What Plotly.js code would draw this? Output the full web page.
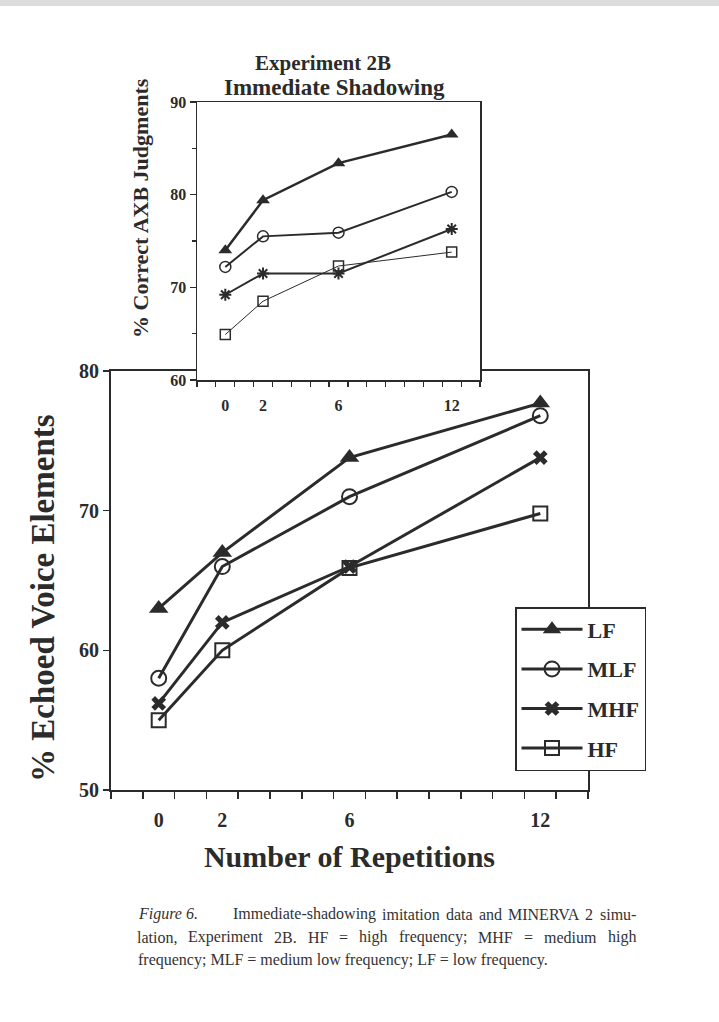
<!DOCTYPE html>
<html>
<head>
<meta charset="utf-8">
<script src="https://cdn.plot.ly/plotly-3.0.1.min.js"></script>
<style>
  html, body { margin: 0; padding: 0; background: #ffffff; }
  #fig { width: 719px; height: 1022px; }
</style>
</head>
<body>
<div id="fig"></div>
<script>
// Repetition counts on the x axis and their tick labels
const repetitions = [0, 2, 6, 12];
const repetitionLabels = ['0', '2', '6', '12'];
const seriesNames = ['LF', 'MLF', 'MHF', 'HF'];

// MINERVA 2 simulation: % echoed voice elements
const echoLF  = [63, 67, 73.8, 77.7];
const echoMLF = [58, 66, 71, 76.8];
const echoMHF = [56.2, 62, 66, 73.8];
const echoHF  = [55, 60, 65.9, 69.8];

// Experiment 2B, immediate shadowing: % correct AXB judgments
const axbLF  = [74, 79.4, 83.4, 86.5];
const axbMLF = [72.2, 75.5, 75.9, 80.3];
const axbMHF = [69.2, 71.5, 71.5, 76.3];
const axbHF  = [64.9, 68.5, 72.3, 73.8];

// Figure caption, line by line
const captionLabel = 'Figure 6.';
const captionLines = [
  'Immediate-shadowing imitation data and MINERVA 2 simu-',
  'lation, Experiment 2B. HF = high frequency; MHF = medium high',
  'frequency; MLF = medium low frequency; LF = low frequency.'
];

const ink = '#2b2b2b';
const captionInk = '#333333';
const serif = 'Liberation Serif, Times New Roman, serif';
const W = 719, H = 1022;
const px = v => v / W;          // horizontal pixel -> paper
const py = v => 1 - v / H;      // vertical pixel -> paper

const mainStyles = [
  { symbol: 'triangle-up', size: 17, lw: 0 },
  { symbol: 'circle-open', size: 15, lw: 2 },
  { symbol: 'x', size: 13, lw: 0 },
  { symbol: 'square-open', size: 14, lw: 2 }
];
const insetStyles = [
  { symbol: 'triangle-up', size: 12, lw: 0, line: 2.5 },
  { symbol: 'circle-open', size: 11, lw: 1.5, line: 2 },
  { symbol: 'asterisk-open', size: 10, lw: 2, line: 2 },
  { symbol: 'square-open', size: 10, lw: 1.5, line: 1 }
];

const echoSeries = [echoLF, echoMLF, echoMHF, echoHF];
const axbSeries = [axbLF, axbMLF, axbMHF, axbHF];

const traces = [];
echoSeries.forEach((vals, i) => {
  const s = mainStyles[i];
  traces.push({
    x: repetitions, y: vals, name: seriesNames[i],
    xaxis: 'x', yaxis: 'y', mode: 'lines+markers',
    legendgroup: seriesNames[i],
    line: { color: ink, width: 3 },
    marker: { symbol: s.symbol, size: s.size, color: ink,
              line: { color: ink, width: s.lw } }
  });
});
axbSeries.forEach((vals, i) => {
  const s = insetStyles[i];
  traces.push({
    x: repetitions, y: vals, name: seriesNames[i],
    xaxis: 'x2', yaxis: 'y2', mode: 'lines+markers', showlegend: false,
    line: { color: ink, width: s.line },
    marker: { symbol: s.symbol, size: s.size, color: ink,
              line: { color: ink, width: s.lw } }
  });
});

const boldFont = (size) => ({ family: serif, size: size, color: ink, weight: 'bold' });
const capFont = { family: serif, size: 16, color: captionInk };

// Justified caption: each word placed so that the line fills [left, right]
const measureCtx = document.createElement('canvas').getContext('2d');
function textWidth(str, size, italic) {
  measureCtx.font = (italic ? 'italic ' : '') + size + 'px "Liberation Serif"';
  return measureCtx.measureText(str).width;
}
function justifiedWords(line, left, right, yPix) {
  const words = line.split(' ');
  const widths = words.map(w => textWidth(w, capFont.size, false));
  const total = widths.reduce((a, b) => a + b, 0);
  const gap = words.length > 1 ? (right - left - total) / (words.length - 1) : 0;
  let x = left;
  return words.map((w, k) => {
    const ann = {
      text: w, xref: 'paper', yref: 'paper', x: px(x), y: py(yPix),
      xanchor: 'left', yanchor: 'middle', showarrow: false, font: capFont,
      borderpad: 0, borderwidth: 0
    };
    x += widths[k] + gap;
    return ann;
  });
}

const captionAnnotations = [
  { text: '<i>' + captionLabel + '</i>', xref: 'paper', yref: 'paper',
    x: px(137), y: py(914), xanchor: 'left', yanchor: 'middle',
    showarrow: false, font: capFont, borderpad: 0 }
].concat(
  justifiedWords(captionLines[0], 233, 636, 914),
  justifiedWords(captionLines[1], 137, 636, 937),
  [{ text: captionLines[2], xref: 'paper', yref: 'paper', x: px(137), y: py(960),
     xanchor: 'left', yanchor: 'middle', showarrow: false, font: capFont, borderpad: 0 }]
);

const layout = {
  width: W, height: H, autosize: false,
  margin: { l: 0, r: 0, t: 0, b: 0 },
  paper_bgcolor: '#ffffff', plot_bgcolor: '#ffffff',
  showlegend: true,
  legend: {
    x: px(515), y: py(607), xanchor: 'left', yanchor: 'top',
    bgcolor: '#ffffff', bordercolor: ink, borderwidth: 1.5,
    font: boldFont(22), itemwidth: 61, tracegroupgap: 8,
    traceorder: 'grouped'
  },
  xaxis: {
    domain: [px(111), px(588)], range: [-1.5, 13.5], anchor: 'y',
    tickmode: 'array', tickvals: repetitions, ticktext: repetitionLabels,
    ticks: '', ticklabelstandoff: 11, tickfont: boldFont(20),
    minor: { tickmode: 'linear', tick0: 0.5, dtick: 1, ticks: 'outside',
             ticklen: 7, tickwidth: 1.5, tickcolor: ink, showgrid: false },
    showline: true, linecolor: ink, linewidth: 2, mirror: true,
    showgrid: false, zeroline: false, fixedrange: true,
    title: { text: 'Number of Repetitions', font: boldFont(30), standoff: 16 }
  },
  yaxis: {
    domain: [py(790), py(371)], range: [50, 80], anchor: 'x',
    tickmode: 'array', tickvals: [50, 60, 70, 80],
    ticks: 'outside', ticklen: 6, tickwidth: 1.5, tickcolor: ink,
    tickfont: boldFont(20), ticklabelstandoff: 0,
    showline: true, linecolor: ink, linewidth: 2, mirror: true,
    showgrid: false, zeroline: false, fixedrange: true
  },
  xaxis2: {
    domain: [px(197), px(480)], range: [-1.5, 13.5], anchor: 'y2',
    tickmode: 'array', tickvals: repetitions, ticktext: repetitionLabels,
    ticks: '', ticklabelstandoff: 10, tickfont: boldFont(16),
    minor: { tickmode: 'linear', tick0: 0.5, dtick: 1, ticks: 'outside',
             ticklen: 5, tickwidth: 1.2, tickcolor: ink, showgrid: false },
    showline: true, linecolor: ink, linewidth: 1.5, mirror: true,
    showgrid: false, zeroline: false, fixedrange: true
  },
  yaxis2: {
    domain: [py(380), py(102)], range: [60, 90], anchor: 'x2',
    tickmode: 'array', tickvals: [60, 70, 80, 90],
    ticks: 'outside', ticklen: 6, tickwidth: 1.2, tickcolor: ink,
    tickfont: boldFont(16), ticklabelstandoff: 0,
    minor: { tickmode: 'linear', tick0: 65, dtick: 10, ticks: 'outside',
             ticklen: 4, tickwidth: 1.2, tickcolor: ink, showgrid: false },
    showline: true, linecolor: ink, linewidth: 1.5, mirror: true,
    showgrid: false, zeroline: false, fixedrange: true
  },
  shapes: [
    { type: 'rect', xref: 'paper', yref: 'paper', x0: 0, x1: 1,
      y0: py(6), y1: 1, fillcolor: '#dcdcdc', line: { width: 0 }, layer: 'below' }
  ],
  annotations: [
    { text: 'Experiment 2B', xref: 'paper', yref: 'paper', x: px(323), y: py(63),
      xanchor: 'center', yanchor: 'middle', showarrow: false, font: boldFont(21) },
    { text: 'Immediate Shadowing', xref: 'paper', yref: 'paper', x: px(334), y: py(87),
      xanchor: 'center', yanchor: 'middle', showarrow: false, font: boldFont(23) },
    { text: '% Correct AXB Judgments', xref: 'paper', yref: 'paper', x: px(140), y: py(208),
      xanchor: 'center', yanchor: 'middle', textangle: -90, showarrow: false,
      font: boldFont(22) },
    { text: '% Echoed Voice Elements', xref: 'paper', yref: 'paper', x: px(43), y: py(598),
      xanchor: 'center', yanchor: 'middle', textangle: -90, showarrow: false,
      font: boldFont(33) }
  ].concat(captionAnnotations)
};

Plotly.newPlot('fig', traces, layout, { staticPlot: true, displayModeBar: false });
</script>
</body>
</html>
